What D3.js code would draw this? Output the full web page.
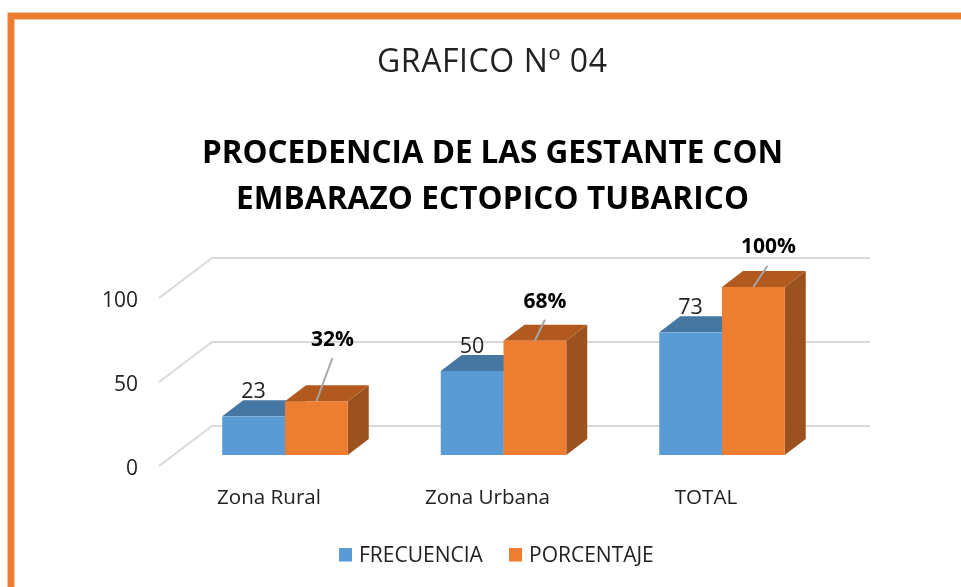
<!DOCTYPE html>
<html><head><meta charset="utf-8">
<script src="https://cdn.jsdelivr.net/npm/d3@7"></script>
<style>html,body{margin:0;padding:0;background:#fff}svg{display:block;filter:blur(0.4px)}text{font-family:"Open Sans",sans-serif}</style>
</head><body><svg id="c" width="961" height="587"></svg>
<script>
const categories = ["Zona Rural","Zona Urbana","TOTAL"];
const frecuencia = [23,50,73];
const porcentaje = [32,68,100];
const porcentajeLabels = ["32%","68%","100%"];
const yTicks = [0,50,100];
const seriesNames = ["FRECUENCIA","PORCENTAJE"];
const chartHeading = "GRAFICO Nº 04";
const titleLines = ["PROCEDENCIA DE LAS GESTANTE CON","EMBARAZO ECTOPICO TUBARICO"];

const svg = d3.select("#c");
const BLUE="#5b9bd5", BLUE_TOP="#4676a2", ORANGE="#ed7d31", ORANGE_TOP="#b1591f", ORANGE_SIDE="#9c521e", GRID="#d9d9d9", INK="#222";
const dx=21, dy=16, floorBack=29, floorFront=11, floorLeft=159, floorRight=212, gridRight=870;

const y = d3.scaleLinear().domain([0,100]).range([455,287]);
const pad = 0.4256;
const x = d3.scaleBand().domain(categories).range([175.75,831.25]).paddingInner(pad).paddingOuter(pad/2);
const bw = x.bandwidth()/2;

// frame
svg.append("path").attr("d","M11,587V16H961").attr("fill","none").attr("stroke","#f8cfb3").attr("stroke-width",7.6);
svg.append("path").attr("d","M11,587V16H961").attr("fill","none").attr("stroke",ORANGE).attr("stroke-width",6.4);

// titles
svg.append("text").attr("x",492).attr("y",72).attr("text-anchor","middle").attr("font-size",32).attr("fill",INK)
  .attr("textLength",230).attr("lengthAdjust","spacing").text(chartHeading);
const titleWidths=[581,513];
svg.selectAll("text.t").data(titleLines).join("text").attr("class","t")
  .attr("x",492.5).attr("y",(d,i)=>162.5+i*46.5).attr("text-anchor","middle").attr("font-size",31.5).attr("font-weight",700).attr("fill","#000")
  .attr("textLength",(d,i)=>titleWidths[i]).attr("lengthAdjust","spacing").text(d=>d);

// gridlines on side + back walls
const gl = svg.append("g").attr("fill","none").attr("stroke",GRID).attr("stroke-width",2);
gl.selectAll("path").data(yTicks).join("path")
  .attr("d",v=>`M${floorLeft},${y(v)+floorFront}L${floorRight},${y(v)-floorBack}H${gridRight}`);

// axis labels
const ax = svg.append("g").attr("transform","translate(138,13)").call(d3.axisLeft(y).tickValues(yTicks).tickSize(0).tickPadding(0));
ax.select(".domain").remove();
ax.selectAll("text").attr("font-size",21).attr("fill",INK).style("font-family",'"Open Sans",sans-serif').attr("dy","0.32em");

// 3D bars
function bar(g,x0,v,front,top,side){
  const t=y(v), b=y(0), w=bw;
  g.append("path").attr("fill",side).attr("d",`M${x0+w},${t}l${dx},${-dy}V${b-dy}l${-dx},${dy}Z`);
  g.append("path").attr("fill",top).attr("d",`M${x0},${t}l${dx},${-dy}h${w}l${-dx},${dy}Z`);
  g.append("rect").attr("x",x0).attr("y",t).attr("width",w).attr("height",b-t).attr("fill",front);
}
const bars = svg.append("g");
categories.forEach((c,i)=>{
  const g=bars.append("g");
  bar(g,x(c),frecuencia[i],BLUE,BLUE_TOP,BLUE_TOP);
  bar(g,x(c)+bw,porcentaje[i],ORANGE,ORANGE_TOP,ORANGE_SIDE);
});

// data labels + leaders
const pctNudge=[[16,55],[10,33],[15,34]], leaderTop=[[16,43],[10,21],[14,21]];
categories.forEach((c,i)=>{
  svg.append("text").attr("x",x(c)+bw/2).attr("y",y(frecuencia[i])-18).attr("text-anchor","middle").attr("font-size",21.5).attr("fill",INK).text(frecuencia[i]);
  const cx=x(c)+bw*1.5, top=y(porcentaje[i]);
  svg.append("line").attr("x1",cx).attr("y1",top).attr("x2",cx+leaderTop[i][0]).attr("y2",top-leaderTop[i][1]).attr("stroke","#a6a6a6").attr("stroke-width",2);
  svg.append("text").attr("x",cx+pctNudge[i][0]).attr("y",top-pctNudge[i][1]).attr("text-anchor","middle").attr("font-size",21).attr("font-weight",700).attr("fill","#000").text(porcentajeLabels[i]);
});

// category labels
svg.selectAll("text.cat").data(categories).join("text").attr("class","cat")
  .attr("x",d=>x(d)+x.bandwidth()/2-16).attr("y",504).attr("text-anchor","middle").attr("font-size",20.6).attr("fill",INK).text(d=>d);

// legend
const legX=[339,509], legend=svg.append("g");
seriesNames.forEach((s,i)=>{
  legend.append("rect").attr("x",legX[i]).attr("y",548).attr("width",13).attr("height",13.5).attr("fill",[BLUE,ORANGE][i]);
  legend.append("text").attr("x",legX[i]+20).attr("y",561.5).attr("font-size",21).attr("fill",INK).text(s);
});
</script></body></html>
